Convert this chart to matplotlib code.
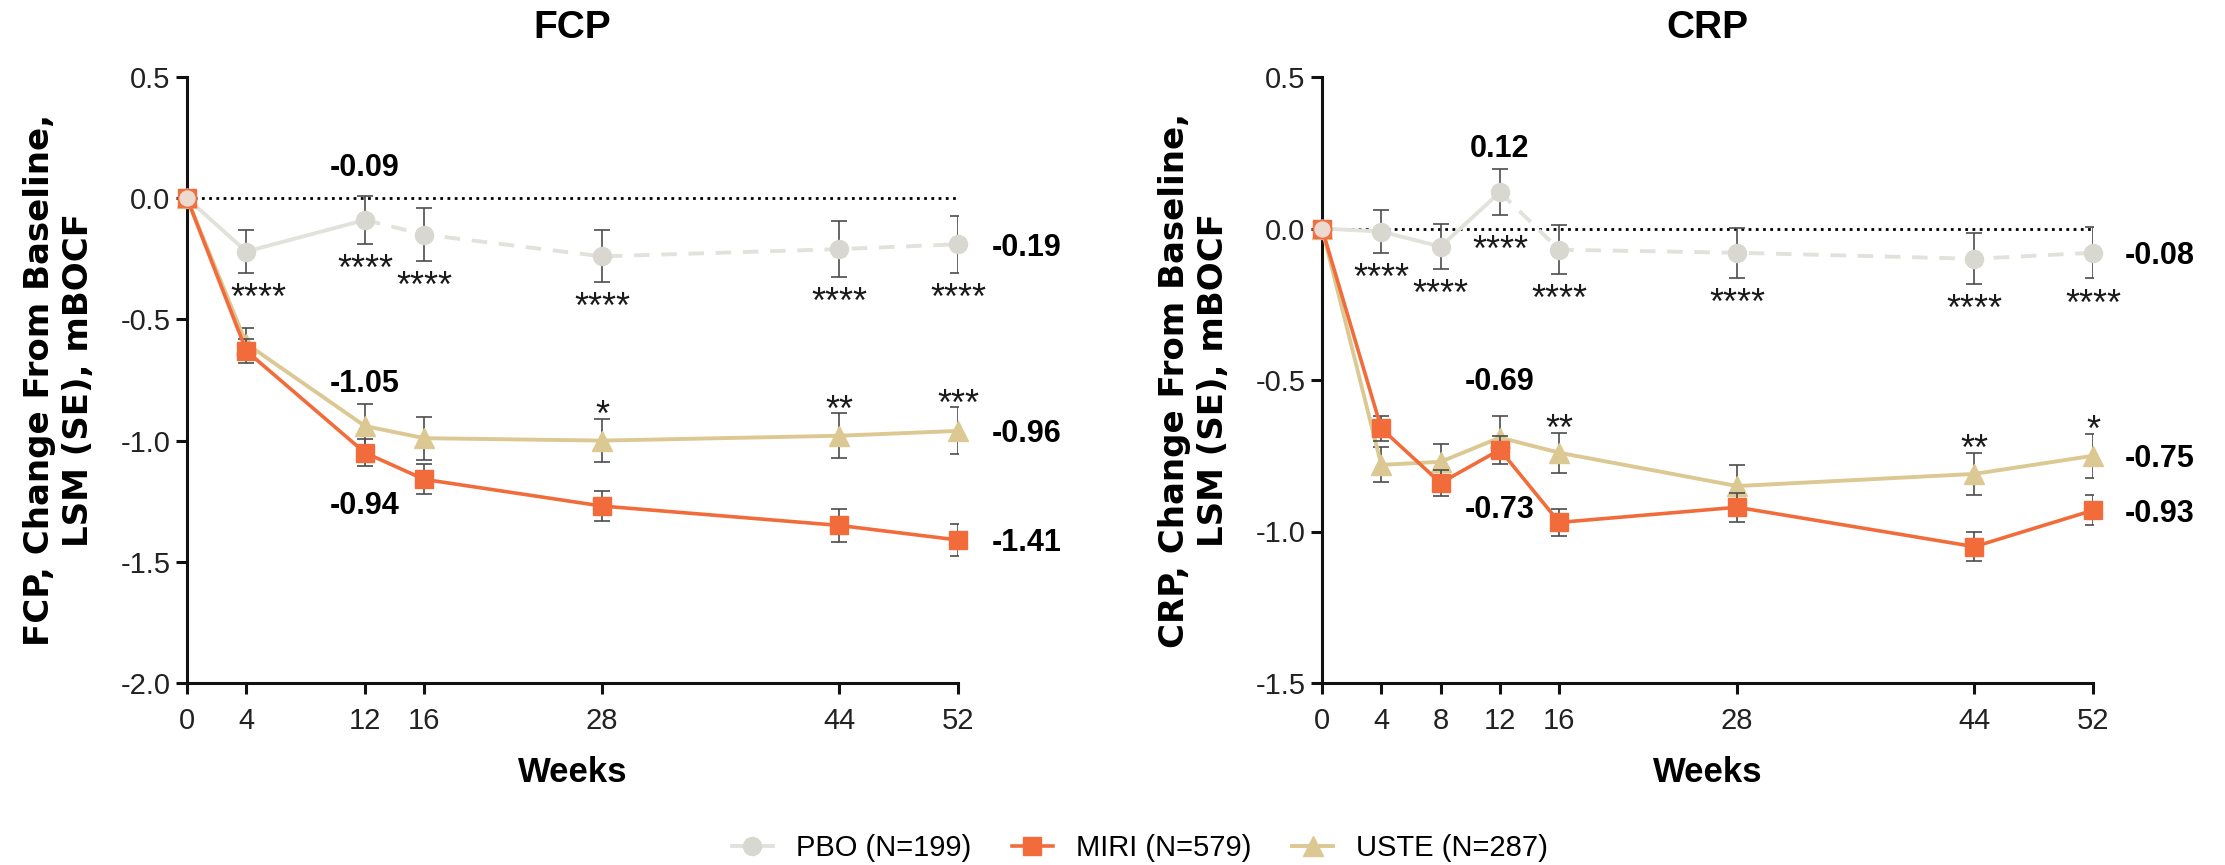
import matplotlib
matplotlib.use('Agg')
import matplotlib.pyplot as plt
from matplotlib.lines import Line2D

plt.rcParams['font.family'] = ['Liberation Sans', 'DejaVu Sans']

# ---------------- data ----------------
weeks_fcp = [0, 4, 12, 16, 28, 44, 52]
pbo_fcp = [0, -0.22, -0.09, -0.15, -0.24, -0.21, -0.19]
pbo_fcp_se = [0, 0.087, 0.10, 0.108, 0.107, 0.115, 0.118]
miri_fcp = [0, -0.63, -1.05, -1.16, -1.27, -1.35, -1.41]
miri_fcp_se = [0, 0.05, 0.055, 0.062, 0.063, 0.067, 0.067]
uste_fcp = [0, -0.60, -0.94, -0.99, -1.00, -0.98, -0.96]
uste_fcp_se = [0, 0.065, 0.09, 0.088, 0.09, 0.093, 0.097]
pbo_fcp_stars = ['', '****', '****', '****', '****', '****', '****']
uste_fcp_stars = ['', '', '', '', '*', '**', '***']

weeks_crp = [0, 4, 8, 12, 16, 28, 44, 52]
pbo_crp = [0, -0.01, -0.06, 0.12, -0.07, -0.08, -0.10, -0.08]
pbo_crp_se = [0, 0.07, 0.074, 0.077, 0.08, 0.082, 0.084, 0.085]
miri_crp = [0, -0.66, -0.84, -0.73, -0.97, -0.92, -1.05, -0.93]
miri_crp_se = [0, 0.04, 0.042, 0.046, 0.044, 0.047, 0.049, 0.05]
uste_crp = [0, -0.78, -0.77, -0.69, -0.74, -0.85, -0.81, -0.75]
uste_crp_se = [0, 0.058, 0.06, 0.07, 0.066, 0.068, 0.07, 0.073]
pbo_crp_stars = ['', '****', '****', '****', '****', '****', '****', '****']
uste_crp_stars = ['', '', '', '', '**', '', '**', '*']

legend_labels = ['PBO (N=199)', 'MIRI (N=579)', 'USTE (N=287)']

# ---------------- style ----------------
PBO_C = '#d8d8d0'
PBO_LINE = '#e2e2dc'
MIRI_C = '#f26c3b'
USTE_C = '#dcc892'
ERR_C = '#4d4d4d'
LW_AX = 2.2
MS_O, MS_S, MS_T = 13, 13.5, 14.5

fig = plt.figure(figsize=(22.25, 8.65), dpi=100)
fig.patch.set_facecolor('white')

ax1 = fig.add_axes([187/2225, 1-683/865, 771/2225, 606/865])
ax2 = fig.add_axes([1322/2225, 1-683/865, 771/2225, 606/865])


def draw_panel(ax, weeks, pbo, pbo_se, miri, miri_se, uste, uste_se,
               pbo_stars, uste_stars, ylim, yticks, title, ylabel,
               mid_labels, end_dx, star_special):
    ax.plot([weeks[0], weeks[-1]], [0, 0], color='black', lw=2.0,
            linestyle=(0, (1, 1.6)), zorder=1)

    # USTE
    ax.errorbar(weeks, uste, yerr=uste_se, fmt='none', ecolor=ERR_C,
                elinewidth=1.2, capsize=6, capthick=1.2, zorder=2)
    ax.plot(weeks, uste, color=USTE_C, lw=2.8, marker='^', ms=MS_T,
            mec=USTE_C, mfc=USTE_C, zorder=3, clip_on=False)
    # MIRI
    ax.errorbar(weeks, miri, yerr=miri_se, fmt='none', ecolor=ERR_C,
                elinewidth=1.2, capsize=6, capthick=1.2, zorder=4)
    ax.plot(weeks, miri, color=MIRI_C, lw=2.6, marker='s', ms=MS_S,
            mec=MIRI_C, mfc=MIRI_C, zorder=5, clip_on=False)
    # PBO: solid to week 12, dashed afterwards
    ax.errorbar(weeks, pbo, yerr=pbo_se, fmt='none', ecolor=ERR_C,
                elinewidth=1.2, capsize=6, capthick=1.2, zorder=2)
    k = weeks.index(12)
    ax.plot(weeks[:k+1], pbo[:k+1], color=PBO_LINE, lw=2.8, zorder=2.5,
            clip_on=False)
    ax.plot(weeks[k:], pbo[k:], color=PBO_LINE, lw=2.8, zorder=2.5,
            dashes=(4, 3))
    ax.plot(weeks, pbo, linestyle='none', marker='o', ms=MS_O, mfc=PBO_C,
            mec=PBO_C, zorder=6, clip_on=False)
    # overlapping baseline point
    ax.plot([weeks[0]], [pbo[0]], linestyle='none', marker='o', ms=MS_O,
            mfc='#ecd9cf', mec=MIRI_C, mew=1.2, zorder=7, clip_on=False)

    # significance stars
    for i, w in enumerate(weeks):
        s = pbo_stars[i]
        if s:
            dx, dy = star_special.get(i, (0, -26))
            ax.annotate(s, xy=(w, pbo[i] - pbo_se[i]), xytext=(dx, dy),
                        textcoords='offset points', ha='center',
                        va='baseline', fontsize=26, color='#1a1a1a')
        s = uste_stars[i]
        if s:
            ax.annotate(s, xy=(w, uste[i] + uste_se[i]), xytext=(0, -5.5),
                        textcoords='offset points', ha='center',
                        va='baseline', fontsize=26, color='#1a1a1a')

    # value labels at week 12
    series = {'pbo': pbo, 'miri': miri, 'uste': uste}
    for key, dy in mid_labels:
        v = series[key][k]
        ax.annotate(f'{v:.2f}', xy=(12, v), xytext=(0, dy),
                    textcoords='offset points', ha='center',
                    va='center_baseline', fontsize=22, fontweight='bold')
    # end labels
    for arr in (pbo, miri, uste):
        ax.annotate(f'{arr[-1]:.2f}', xy=(weeks[-1], arr[-1]),
                    xytext=(end_dx, 0), textcoords='offset points',
                    ha='left', va='center_baseline', fontsize=22,
                    fontweight='bold')

    ax.set_xlim(0, 52)
    ax.set_ylim(*ylim)
    ax.set_xticks(weeks)
    ax.set_xticklabels([str(w) for w in weeks])
    ax.set_yticks(yticks)
    ax.set_yticklabels([f'{t:.1f}' for t in yticks])
    for sp in ('top', 'right'):
        ax.spines[sp].set_visible(False)
    for sp in ('left', 'bottom'):
        ax.spines[sp].set_linewidth(LW_AX)
        ax.spines[sp].set_color('#111111')
    ax.tick_params(axis='both', direction='out', length=8, width=LW_AX,
                   labelsize=21, colors='#111111', labelcolor='#222222')
    ax.tick_params(axis='x', pad=9)
    ax.tick_params(axis='y', pad=4)

    bb = ax.get_position()
    cx = bb.x0 + bb.width / 2
    fig.text(cx, 1 - 28/865, title, ha='center', va='center',
             fontsize=28, fontweight='bold')
    fig.text(cx, 1 - 772/865, 'Weeks', ha='center', va='center',
             fontsize=25, fontweight='bold')
    fig.text(bb.x0 - 128/2225, bb.y0 + bb.height / 2, ylabel,
             ha='center', va='center', rotation=90, fontsize=24.5,
             fontweight='bold', linespacing=1.2,
             family=['DejaVu Sans'])


draw_panel(ax1, weeks_fcp, pbo_fcp, pbo_fcp_se, miri_fcp, miri_fcp_se,
           uste_fcp, uste_fcp_se, pbo_fcp_stars, uste_fcp_stars,
           (-2.0, 0.5), [-2.0, -1.5, -1.0, -0.5, 0.0, 0.5], 'FCP',
           'FCP, Change From Baseline,\nLSM (SE), mBOCF',
           [('pbo', 40), ('miri', 52), ('uste', -55)], 24,
           {1: (8.5, -26)})

draw_panel(ax2, weeks_crp, pbo_crp, pbo_crp_se, miri_crp, miri_crp_se,
           uste_crp, uste_crp_se, pbo_crp_stars, uste_crp_stars,
           (-1.5, 0.5), [-1.5, -1.0, -0.5, 0.0, 0.5], 'CRP',
           'CRP, Change From Baseline,\nLSM (SE), mBOCF',
           [('pbo', 33.5), ('uste', 42.7), ('miri', -41)], 22.5,
           {3: (0, -33)})

handles = [
    Line2D([], [], color=PBO_LINE, lw=2.8, marker='o', ms=MS_O, mfc=PBO_C, mec=PBO_C),
    Line2D([], [], color=MIRI_C, lw=2.6, marker='s', ms=MS_S, mfc=MIRI_C, mec=MIRI_C),
    Line2D([], [], color=USTE_C, lw=2.8, marker='^', ms=MS_T, mfc=USTE_C, mec=USTE_C),
]
fig.legend(handles, legend_labels, loc='center', ncol=3,
           bbox_to_anchor=(1140/2225, 1 - 848/865), frameon=False,
           fontsize=21, handlelength=1.4, handletextpad=0.8,
           columnspacing=1.4)

fig.savefig('out.png', dpi=100, facecolor='white')
